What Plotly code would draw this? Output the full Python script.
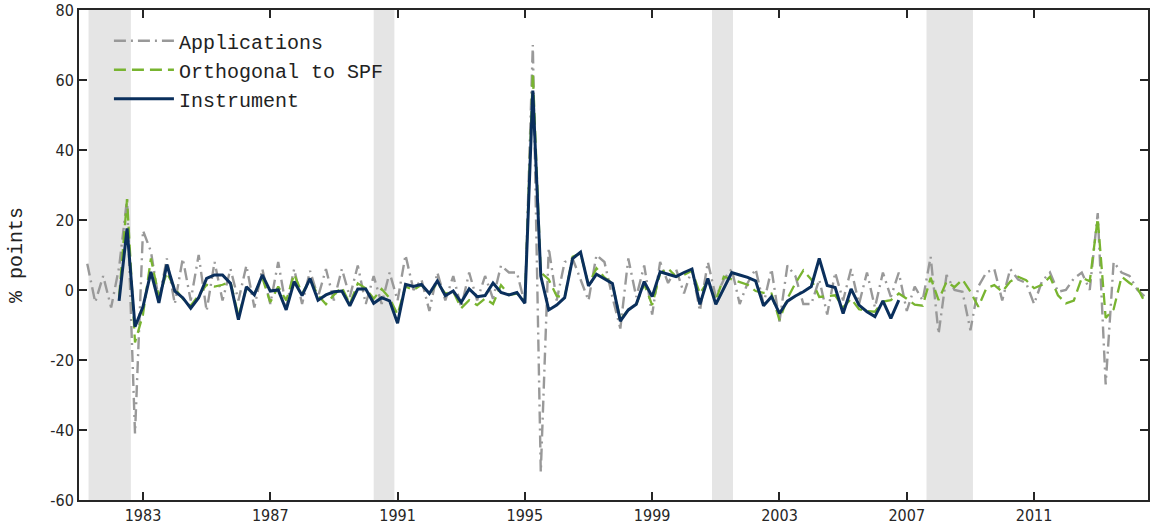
import plotly.graph_objects as go

# ---------------- data ----------------
app_start = 1981.25      # first quarter of the Applications series
orth_start = 1982.25     # first quarter of the Orthogonal-to-SPF series
inst_start = 1982.25     # first quarter of the Instrument series

applications = [
    7.5, -3.5, 4, -5, 6.5, 26, -41, 17, 11, -3, 9, -4, 9, -3, 10, -6, 8, -3, 6, -3,
    7, -5, 6, -4, 8, -5, 6, -4, 5.5, -2, 6, -3, 6, -2, 7, -4, 4, -4, 5, -3,
    10, 0, 3, -6, 5, -3, 4, -5, 5, -3, 4, -2.5, 7, 5, 5, -4, 70, -52, 12, -3,
    8, 9, 3, -3, 10, 8, -2, -11, 9, -2, 7, -7, 8, 2, 6, -1, 6, -6, 8, -2,
    3, 6, -4, 2, 6, -4, 6, -9, 7, 4, -4, -4, 3, -7, 5, -3, 6, -4, 5, -5,
    5, -2, 5, -6, 1, -3, 9.5, -12.5, 4.3, 0, -0.5, -11.5, 1, 5, 6, -3, 6, 3, 2, -4,
    2.5, 5, -0.5, 0, 3.3, 5, 0, 22, -27, 8, 5, 4, 0, -2, -3,
]

orthogonal = [
    -2, 26, -15, -7, 9, -2, 5, 0.5, -2.5, -4.5, -1.5, 1.5, 1.0, 1.5, 2.3, -7.5, 0.5, -1.0, 3.5, -3.5,
    1.0, -3.0, 4.5, -1.0, 3.0, -1.5, -4.1, -1.4, 0.8, -4.0, 1.9, 0.5, -2.5, 0.3, -2.3, -7.0, 1.0, 0.0, 1.5, -1.0,
    2.0, -1.0, -0.5, -5.2, -2.9, -4.3, -2.4, -4.0, 1.4, -1.4, -1.0, -3.0, 62, 5, 3, -1.7, -2.2, 9.5, 10.5, 1.5,
    6.2, 3.6, 1.9, -8.5, -5.7, -4.1, 1.7, -4.3, 4.8, 6.2, 3.8, 4.3, 5.5, -1.0, 2.5, -3.0, 3.8, 3.0, 2.4, 1.5,
    -0.3, -0.8, -1.0, -8.6, -2.4, 1.9, 5.6, 3.0, -2.0, -1.8, -1.5, -5.0, -2.5, -5.5, -6.0, -6.2, -3.3, -2.9, -1.0, -2.5,
    -4.2, -4.5, 3.5, -2.9, 2.4, 0.8, 3.0, -0.5, -4.8, 0.5, 1.4, -0.5, 2.4, 3.8, 2.8, 0.5, 1.5, 3.8, -1.5, -3.8,
    -3.0, 3.5, 2.5, 20.5, -8, -5.5, 3.8, 2, 0.5, -3.8,
]

instrument = [
    -3.1, 17.6, -10.5, -4.8, 5.2, -3.7, 7.3, -0.3, -2.2, -5.2, -2.2, 3.3, 4.3, 4.3, 1.9, -8.5, 0.9, -1.4, 4.3, -0.3,
    0.0, -5.7, 2.4, -1.6, 3.3, -2.9, -1.4, -0.5, -0.3, -4.5, 0.3, 0.3, -3.8, -2.2, -3.1, -9.5, 1.6, 1.0, 1.6, -1.0,
    2.6, -1.6, -0.3, -3.5, 0.3, -1.9, -1.6, 2.0, -0.7, -1.4, -0.7, -3.8, 57, 4.0, -5.7, -4.3, -2.2, 9.0, 10.8, 1.2,
    4.5, 3.1, 1.9, -8.9, -5.7, -4.1, 2.4, -1.9, 5.2, 4.5, 3.8, 5.0, 6.0, -4.1, 3.3, -4.1, 0.5, 5.0, 4.3, 3.6,
    2.6, -4.5, -1.9, -6.7, -3.2, -1.7, -0.5, 1.0, 9.0, 1.3, 0.7, -6.7, 0.3, -4.3, -6.2, -7.6, -3.1, -8.1, -2.9,
]

recession_starts = [1981.29, 1990.25, 2000.88, 2007.62]
recession_ends = [1982.62, 1990.90, 2001.54, 2009.08]

x_ticks = [1983, 1987, 1991, 1995, 1999, 2003, 2007, 2011]
y_ticks = [80, 60, 40, 20, 0, -20, -40, -60]
y_tick_labels = ["80", "60", "40", "20", "0", "-20", "-40", "-60"]


def quarters(start, n):
    return [start + 0.25 * i for i in range(n)]


# ---------------- figure ----------------
fig = go.Figure()

fig.add_trace(go.Scatter(
    x=quarters(app_start, len(applications)), y=applications,
    mode="lines", name="Applications",
    line=dict(color="#999999", width=2.4, dash="12px,5px,2px,5px"),
))
fig.add_trace(go.Scatter(
    x=quarters(orth_start, len(orthogonal)), y=orthogonal,
    mode="lines", name="Orthogonal to SPF",
    line=dict(color="#78b430", width=2.3, dash="12px,6px"),
))
fig.add_trace(go.Scatter(
    x=quarters(inst_start, len(instrument)), y=instrument,
    mode="lines", name="Instrument",
    line=dict(color="#0a2f5c", width=3),
))

for s, e in zip(recession_starts, recession_ends):
    fig.add_shape(type="rect", xref="x", yref="paper", x0=s, x1=e, y0=0, y1=1,
                  fillcolor="#e5e5e5", line=dict(width=0), layer="below")

tick_font = dict(family="Liberation Sans Narrow, DejaVu Sans Condensed, Liberation Sans, sans-serif",
                 size=16, color="#262626")
mono = "Liberation Mono, Courier New, monospace"

fig.update_layout(
    width=1150, height=530,
    margin=dict(l=79, r=0, t=10, b=30),
    plot_bgcolor="white", paper_bgcolor="white",
    showlegend=True,
    legend=dict(x=0.028, y=0.977, xanchor="left", yanchor="top",
                bgcolor="rgba(0,0,0,0)", borderwidth=0,
                font=dict(family=mono, size=20, color="#222222"),
                itemwidth=60, tracegroupgap=0),
    xaxis=dict(range=[1980.99, 2014.58], tickvals=x_ticks, ticktext=[str(t) for t in x_ticks],
               showgrid=False, zeroline=False, showline=True, linecolor="#262626", linewidth=2,
               mirror="ticks", ticks="inside", ticklen=8, tickwidth=1.5, tickcolor="#262626",
               tickfont=tick_font),
    yaxis=dict(range=[-60, 80], tickvals=y_ticks, ticktext=y_tick_labels,
               showgrid=False, zeroline=False, showline=True, linecolor="#262626", linewidth=2,
               mirror="ticks", ticks="inside", ticklen=8, tickwidth=1.5, tickcolor="#262626",
               tickfont=tick_font,
               title=dict(text="% points", font=dict(family=mono, size=20, color="#222222"), standoff=22)),
)

fig.write_html("out.html")
